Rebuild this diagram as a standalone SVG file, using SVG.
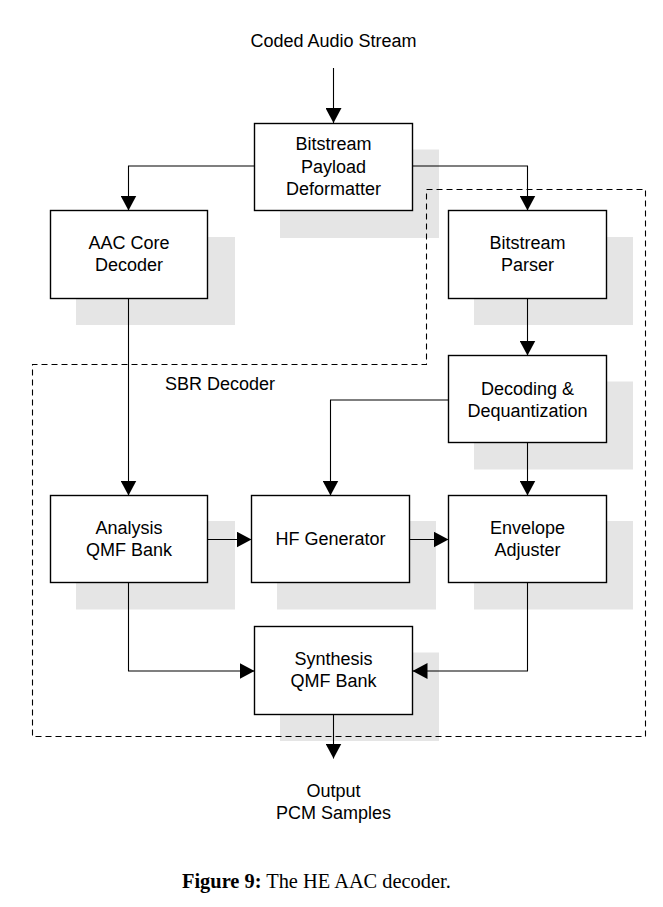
<svg xmlns="http://www.w3.org/2000/svg" width="663" height="907" viewBox="0 0 663 907">
<style>
.shadow{fill:#e5e5e5;stroke:none}
.box{fill:#ffffff;stroke:#000000;stroke-width:1.4}
.lbl{font-family:"Liberation Sans",Arial,sans-serif;font-size:18px;fill:#000000;text-anchor:middle}
.conn{fill:none;stroke:#000000;stroke-width:1.1}
.dash{fill:none;stroke:#000000;stroke-width:1.1;stroke-dasharray:6 4}
.cap{font-family:"Liberation Serif","Times New Roman",serif;font-size:20.4px;fill:#000000}
</style>
<defs>
<marker id="arrow" markerUnits="userSpaceOnUse" markerWidth="16" markerHeight="16" refX="15" refY="8" orient="auto">
<path d="M0,0 L15,8 L0,16 Z" fill="#000000"/>
</marker>
</defs>
<rect width="663" height="907" fill="#ffffff"/>

<text class="lbl" x="333.5" y="47">Coded Audio Stream</text>

<g id="payload-deformatter">
<rect class="shadow" x="280" y="149.5" width="159" height="88.5"/>
<rect class="box" x="254.5" y="123.5" width="158" height="87"/>
<text class="lbl" x="333.5" y="150">Bitstream</text>
<text class="lbl" x="333.5" y="172.5">Payload</text>
<text class="lbl" x="333.5" y="195">Deformatter</text>
</g>

<g id="aac-core-decoder">
<rect class="shadow" x="76" y="237" width="159" height="88"/>
<rect class="box" x="50.5" y="210.5" width="157" height="88"/>
<text class="lbl" x="129" y="249">AAC Core</text>
<text class="lbl" x="129" y="271">Decoder</text>
</g>

<g id="bitstream-parser">
<rect class="shadow" x="474" y="237" width="159" height="88"/>
<rect class="box" x="448.5" y="210.5" width="158" height="88"/>
<text class="lbl" x="527.5" y="249">Bitstream</text>
<text class="lbl" x="527.5" y="271">Parser</text>
</g>

<g id="decoding-dequantization">
<rect class="shadow" x="474" y="381.5" width="159" height="88"/>
<rect class="box" x="448.5" y="355.5" width="158" height="87"/>
<text class="lbl" x="527.5" y="395">Decoding &amp;</text>
<text class="lbl" x="527.5" y="417">Dequantization</text>
</g>

<g id="analysis-qmf-bank">
<rect class="shadow" x="76" y="521" width="159" height="88.5"/>
<rect class="box" x="50.5" y="495.5" width="157" height="87"/>
<text class="lbl" x="129" y="534">Analysis</text>
<text class="lbl" x="129" y="556">QMF Bank</text>
</g>

<g id="hf-generator">
<rect class="shadow" x="277" y="521" width="159" height="88.5"/>
<rect class="box" x="251.5" y="495.5" width="158" height="87"/>
<text class="lbl" x="330.5" y="545">HF Generator</text>
</g>

<g id="envelope-adjuster">
<rect class="shadow" x="474" y="521" width="159" height="88.5"/>
<rect class="box" x="448.5" y="495.5" width="158" height="87"/>
<text class="lbl" x="527.5" y="534">Envelope</text>
<text class="lbl" x="527.5" y="556">Adjuster</text>
</g>

<g id="synthesis-qmf-bank">
<rect class="shadow" x="280" y="652.5" width="159" height="88.5"/>
<rect class="box" x="254.5" y="626.5" width="158" height="88"/>
<text class="lbl" x="333.5" y="665">Synthesis</text>
<text class="lbl" x="333.5" y="687">QMF Bank</text>
</g>

<g id="sbr-decoder">
<path class="dash" d="M426.5,189.5 H645.5 V736.5 H32.5 V364.5 H426.5 Z"/>
<text class="lbl" x="165" y="390" style="text-anchor:start">SBR Decoder</text>
</g>

<g id="connectors">
<path class="conn" marker-end="url(#arrow)" d="M333.5,68 V123"/>
<path class="conn" marker-end="url(#arrow)" d="M254.5,166 H128.5 V210.5"/>
<path class="conn" marker-end="url(#arrow)" d="M412.5,166 H527.5 V210.5"/>
<path class="conn" marker-end="url(#arrow)" d="M527.5,298.5 V355.5"/>
<path class="conn" marker-end="url(#arrow)" d="M128.5,298.5 V495.5"/>
<path class="conn" marker-end="url(#arrow)" d="M448.5,400 H330.5 V495.5"/>
<path class="conn" marker-end="url(#arrow)" d="M527.5,442.5 V495.5"/>
<path class="conn" marker-end="url(#arrow)" d="M207.5,539.5 H251.5"/>
<path class="conn" marker-end="url(#arrow)" d="M409.5,539.5 H448.5"/>
<path class="conn" marker-end="url(#arrow)" d="M128.5,582.5 V671 H254.5"/>
<path class="conn" marker-end="url(#arrow)" d="M527.5,582.5 V671 H412.5"/>
<path class="conn" marker-end="url(#arrow)" d="M333.5,714.5 V758.5"/>
</g>

<text class="lbl" x="333.5" y="797">Output</text>
<text class="lbl" x="333.5" y="819">PCM Samples</text>

<text class="cap" x="182" y="888"><tspan font-weight="bold">Figure 9:</tspan> The HE AAC decoder.</text>
</svg>
